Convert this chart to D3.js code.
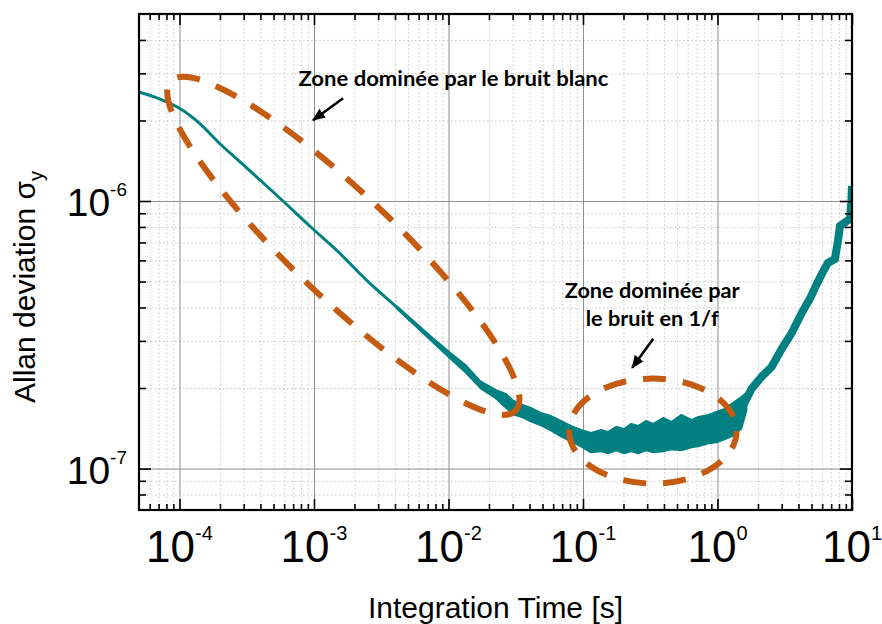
<!DOCTYPE html>
<html><head><meta charset="utf-8">
<script src="https://cdn.jsdelivr.net/npm/d3@7"></script>
<style>body{margin:0;background:#fff}svg{display:block}</style>
</head><body><svg id="c" width="882" height="624"></svg>
<script>
// ---------- data ----------
const xDomain = [5e-5, 10];
const yDomain = [7e-8, 5e-6];
const xMajorTicks = [1e-4, 1e-3, 1e-2, 1e-1, 1, 10];
const xTickExp = ["-4", "-3", "-2", "-1", "0", "1"];
const yMajorTicks = [1e-7, 1e-6];
const yTickExp = ["-7", "-6"];

// low-noise part of the Allan deviation curve
const tau = [5e-5, 7.09e-5, 1e-4, 1.41e-4, 1.99e-4, 3.16e-4, 5.88e-4, 9.84e-4, 1.49e-3, 2.49e-3, 4.16e-3, 7.34e-3, 1.035e-2];
const sigma = [2.55e-6, 2.41e-6, 2.22e-6, 1.95e-6, 1.64e-6, 1.33e-6, 1.0e-6, 7.86e-7, 6.51e-7, 5.03e-7, 3.99e-7, 3.08e-7, 2.63e-7];

// noisy part: envelope (upper / lower) of the scattered curve
const bandTau = [4.16e-3, 7.34e-3, 1.035e-2, 1.339e-2, 1.733e-2, 2.243e-2, 2.663e-2, 3.056e-2, 3.566e-2, 4.091e-2, 4.86e-2, 5.771e-2, 6.85e-2, 8.13e-2, 9.66e-2, 0.1147, 0.1363, 0.1537, 0.1763, 0.2023, 0.2282, 0.2573, 0.2952, 0.333, 0.3954, 0.4536, 0.5386, 0.6397, 0.7214, 0.8566, 0.9829, 1.128, 1.272, 1.51, 1.646];
const bandHi = [4.04e-7, 3.134e-7, 2.709e-7, 2.444e-7, 2.12e-7, 1.97e-7, 1.905e-7, 1.793e-7, 1.733e-7, 1.689e-7, 1.618e-7, 1.577e-7, 1.51e-7, 1.447e-7, 1.398e-7, 1.362e-7, 1.398e-7, 1.374e-7, 1.435e-7, 1.41e-7, 1.472e-7, 1.447e-7, 1.51e-7, 1.472e-7, 1.55e-7, 1.497e-7, 1.59e-7, 1.523e-7, 1.563e-7, 1.59e-7, 1.632e-7, 1.675e-7, 1.747e-7, 1.856e-7, 1.921e-7];
const bandLo = [3.94e-7, 3.02e-7, 2.57e-7, 2.282e-7, 1.99e-7, 1.83e-7, 1.689e-7, 1.59e-7, 1.55e-7, 1.497e-7, 1.447e-7, 1.386e-7, 1.317e-7, 1.261e-7, 1.208e-7, 1.147e-7, 1.157e-7, 1.138e-7, 1.167e-7, 1.138e-7, 1.157e-7, 1.138e-7, 1.167e-7, 1.147e-7, 1.157e-7, 1.177e-7, 1.167e-7, 1.198e-7, 1.208e-7, 1.24e-7, 1.25e-7, 1.283e-7, 1.317e-7, 1.41e-7, 1.646e-7];

// long integration times (few averages, stepped)
const tailTau = [1.386, 1.51, 1.794, 2.13, 2.529, 3.003, 3.566, 4.236, 4.86, 5.481, 5.972, 6.621, 7.467, 7.863, 8.135, 9.178, 9.663, 9.9, 10.0];
const tailSigma = [1.563e-7, 1.675e-7, 1.988e-7, 2.205e-7, 2.402e-7, 2.804e-7, 3.216e-7, 3.821e-7, 4.308e-7, 4.902e-7, 5.34e-7, 5.87e-7, 6.075e-7, 7.09e-7, 8.066e-7, 8.422e-7, 8.567e-7, 1.0e-6, 1.14e-6];

// annotations (data coordinates)
const zone1Tips = [[8.64e-5, 2.81e-6], [3.16e-2, 1.646e-7]];
const zone2Tau = [0.0787, 1.386];
const zone2Sigma = [8.79e-8, 2.17e-7];
const arrows = [
  [[1.646e-3, 2.42e-6], [9.83e-4, 2.005e-6]],
  [[0.333, 3.055e-7], [0.232, 2.381e-7]]
];
const notes = [
  {text: "Zone dominée par le bruit blanc", tau: 1.089e-2, sigma: 2.69e-6, len: 310},
  {text: "Zone dominée par", tau: 0.327, sigma: 4.34e-7, len: 175},
  {text: "le bruit en 1/f", tau: 0.327, sigma: 3.42e-7, len: 133}
];

// ---------- drawing ----------
const svg = d3.select("#c");
const L = 139, R = 852, T = 14, B = 510;
const x = d3.scaleLog().domain(xDomain).range([L, R]);
const y = d3.scaleLog().domain(yDomain).range([B, T]);
const isMajor = (v, arr) => arr.some(m => Math.abs(m - v) / m < 1e-6);
const minX = x.ticks().filter(v => !isMajor(v, xMajorTicks) && v > xDomain[0] * 1.0001);
const minY = y.ticks().filter(v => !isMajor(v, yMajorTicks) && v < yDomain[1] * 0.9999 && v > yDomain[0] * 1.0001);

const noDomain = g => g.select(".domain").remove();

// grid: minor dotted
const grid = svg.append("g");
grid.append("g").attr("transform", `translate(0,${B})`)
  .call(d3.axisBottom(x).tickValues(minX).tickSize(-(B - T)).tickFormat(""))
  .call(noDomain).selectAll("line").attr("stroke", "#c6c6c6").attr("stroke-dasharray", "1.5,2.5");
grid.append("g").attr("transform", `translate(${L},0)`)
  .call(d3.axisLeft(y).tickValues(minY).tickSize(-(R - L)).tickFormat(""))
  .call(noDomain).selectAll("line").attr("stroke", "#c6c6c6").attr("stroke-dasharray", "1.5,2.5");
// grid: major solid
grid.append("g").attr("transform", `translate(0,${B})`)
  .call(d3.axisBottom(x).tickValues(xMajorTicks.slice(0, -1)).tickSize(-(B - T)).tickFormat(""))
  .call(noDomain).selectAll("line").attr("stroke", "#8f8f8f").attr("stroke-width", 1);
grid.append("g").attr("transform", `translate(${L},0)`)
  .call(d3.axisLeft(y).tickValues(yMajorTicks).tickSize(-(R - L)).tickFormat(""))
  .call(noDomain).selectAll("line").attr("stroke", "#8f8f8f").attr("stroke-width", 1);

// data
svg.append("clipPath").attr("id", "clip").append("rect")
  .attr("x", L).attr("y", T).attr("width", R - L).attr("height", B - T);
const plot = svg.append("g").attr("clip-path", "url(#clip)");
const teal = "#008080";
plot.append("path")
  .datum(tau.map((t, i) => [t, sigma[i]]))
  .attr("fill", "none").attr("stroke", teal).attr("stroke-width", 3)
  .attr("stroke-linejoin", "round")
  .attr("d", d3.line().x(d => x(d[0])).y(d => y(d[1])).curve(d3.curveMonotoneX));
plot.append("path")
  .datum(bandTau.map((t, i) => [t, bandLo[i], bandHi[i]]))
  .attr("fill", teal).attr("stroke", teal).attr("stroke-width", 1.5)
  .attr("stroke-linejoin", "round")
  .attr("d", d3.area().x(d => x(d[0])).y0(d => y(d[1])).y1(d => y(d[2])));
plot.append("path")
  .datum(tailTau.map((t, i) => [t, tailSigma[i]]))
  .attr("fill", "none").attr("stroke", teal).attr("stroke-width", 8)
  .attr("stroke-linejoin", "miter")
  .attr("d", d3.line().x(d => x(d[0])).y(d => y(d[1])));

// ticks (inside, all four sides)
const tickStyle = g => g.call(noDomain).selectAll("line").attr("stroke", "#000").attr("stroke-width", 1.6);
const axes = svg.append("g");
axes.append("g").attr("transform", `translate(0,${B})`).call(d3.axisBottom(x).tickValues(minX).tickSize(-6).tickFormat("")).call(tickStyle);
axes.append("g").attr("transform", `translate(0,${B})`).call(d3.axisBottom(x).tickValues(xMajorTicks).tickSize(-11).tickFormat("")).call(tickStyle);
axes.append("g").attr("transform", `translate(0,${T})`).call(d3.axisTop(x).tickValues(minX).tickSize(-6).tickFormat("")).call(tickStyle);
axes.append("g").attr("transform", `translate(0,${T})`).call(d3.axisTop(x).tickValues(xMajorTicks).tickSize(-11).tickFormat("")).call(tickStyle);
axes.append("g").attr("transform", `translate(${L},0)`).call(d3.axisLeft(y).tickValues(minY).tickSize(-7).tickFormat("")).call(tickStyle);
axes.append("g").attr("transform", `translate(${L},0)`).call(d3.axisLeft(y).tickValues(yMajorTicks).tickSize(-12).tickFormat("")).call(tickStyle);
axes.append("g").attr("transform", `translate(${R},0)`).call(d3.axisRight(y).tickValues(minY).tickSize(-7).tickFormat("")).call(tickStyle);
axes.append("g").attr("transform", `translate(${R},0)`).call(d3.axisRight(y).tickValues(yMajorTicks).tickSize(-12).tickFormat("")).call(tickStyle);

// frame
svg.append("rect").attr("x", L).attr("y", T).attr("width", R - L).attr("height", B - T)
  .attr("fill", "none").attr("stroke", "#000").attr("stroke-width", 2.2);

// tick labels
const font = "'Liberation Sans', Arial, sans-serif";
const xl = svg.append("g").attr("font-family", font).attr("fill", "#000");
xMajorTicks.forEach((v, i) => {
  const t = xl.append("text").attr("x", x(v)).attr("y", B + 52).attr("text-anchor", "middle");
  t.append("tspan").attr("font-size", 44).text("10");
  t.append("tspan").attr("font-size", 20).attr("dy", -22).text(xTickExp[i]);
});
yMajorTicks.forEach((v, i) => {
  const t = xl.append("text").attr("x", L - 12).attr("y", y(v) + 15).attr("text-anchor", "end");
  t.append("tspan").attr("font-size", 39).text("10");
  t.append("tspan").attr("font-size", 19).attr("dy", -20).text(yTickExp[i]);
});

// axis titles
svg.append("text").attr("x", (L + R) / 2).attr("y", 618).attr("text-anchor", "middle")
  .attr("font-family", font).attr("font-size", 30).text("Integration Time [s]");
const yt = svg.append("text").attr("transform", "translate(35,403) rotate(-90)")
  .attr("font-family", font).attr("font-size", 30);
yt.append("tspan").text("Allan deviation σ");
yt.append("tspan").attr("font-size", 20).attr("dy", 8).text("y");

// annotations: dashed ellipses
const orange = "#C55A11";
const p1 = [x(zone1Tips[0][0]), y(zone1Tips[0][1])];
const p2 = [x(zone1Tips[1][0]), y(zone1Tips[1][1])];
const cx1 = (p1[0] + p2[0]) / 2, cy1 = (p1[1] + p2[1]) / 2;
const a1 = Math.hypot(p2[0] - p1[0], p2[1] - p1[1]) / 2;
const ang1 = Math.atan2(p2[1] - p1[1], p2[0] - p1[0]) * 180 / Math.PI;
svg.append("ellipse").attr("transform", `translate(${cx1},${cy1}) rotate(${ang1})`)
  .attr("rx", a1).attr("ry", 52)
  .attr("fill", "none").attr("stroke", orange).attr("stroke-width", 6)
  .attr("stroke-dasharray", "23,17").attr("stroke-dashoffset", 8);
const ex0 = x(zone2Tau[0]), ex1 = x(zone2Tau[1]);
const ey0 = y(zone2Sigma[1]), ey1 = y(zone2Sigma[0]);
svg.append("ellipse").attr("cx", (ex0 + ex1) / 2).attr("cy", (ey0 + ey1) / 2)
  .attr("rx", (ex1 - ex0) / 2).attr("ry", (ey1 - ey0) / 2)
  .attr("fill", "none").attr("stroke", orange).attr("stroke-width", 6)
  .attr("stroke-dasharray", "23,17").attr("stroke-dashoffset", 5);

// arrows
svg.append("defs").append("marker").attr("id", "ah")
  .attr("viewBox", "0 0 12 10").attr("refX", 11).attr("refY", 5)
  .attr("markerWidth", 13).attr("markerHeight", 11).attr("markerUnits", "userSpaceOnUse")
  .attr("orient", "auto")
  .append("path").attr("d", "M0,0 L12,5 L0,10 Z").attr("fill", "#000");
arrows.forEach(a => {
  svg.append("line")
    .attr("x1", x(a[0][0])).attr("y1", y(a[0][1]))
    .attr("x2", x(a[1][0])).attr("y2", y(a[1][1]))
    .attr("stroke", "#000").attr("stroke-width", 2.6).attr("marker-end", "url(#ah)");
});

// notes
notes.forEach(n => {
  svg.append("text").attr("x", x(n.tau)).attr("y", y(n.sigma)).attr("text-anchor", "middle")
    .attr("font-family", "Lato, 'Open Sans', sans-serif").attr("font-weight", "bold")
    .attr("font-size", 21).attr("textLength", n.len).attr("lengthAdjust", "spacingAndGlyphs")
    .attr("fill", "#000").text(n.text);
});
</script>
</body></html>
